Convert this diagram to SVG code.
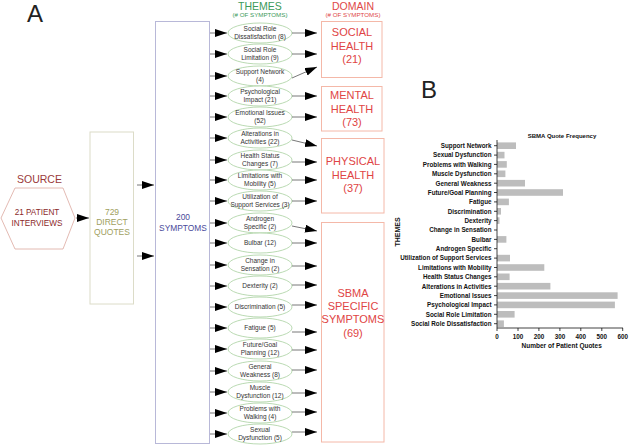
<svg xmlns="http://www.w3.org/2000/svg" width="633" height="445" viewBox="0 0 633 445">
<defs>
<marker id="ah" markerUnits="userSpaceOnUse" markerWidth="13" markerHeight="9" refX="12" refY="4" orient="auto">
<path d="M0,0 L12,4 L0,8 z" fill="#000"/>
</marker>
<style>
text{font-family:"Liberation Sans",Arial,sans-serif}
.big{font-size:24px;fill:#222}
.ln{stroke:#555;stroke-width:0.8;fill:none;marker-end:url(#ah)}
.th ellipse{fill:#fff;stroke:#a8d0a0;stroke-width:0.8}
.th text{font-size:6.5px;fill:#333;text-anchor:middle}
.dom rect{fill:#fff;stroke:#f4b8a8;stroke-width:1}
.dom text{font-size:11px;fill:#e04444;text-anchor:middle}
.cat{font-size:6.3px;font-weight:bold;fill:#111;text-anchor:end}
.tk{font-size:6.3px;font-weight:bold;fill:#111;text-anchor:middle}
.bar{fill:#bdbdbd}
.ax{stroke:#111;stroke-width:0.8;fill:none}
</style>
</defs>
<rect width="633" height="445" fill="#fff"/>
<text class="big" x="27" y="22">A</text>
<text class="big" x="421" y="98">B</text>

<g id="headers">
<text x="260" y="9.5" font-size="10.5" fill="#3c9a5a" text-anchor="middle">THEMES</text>
<text x="260" y="16.5" font-size="6.2" fill="#3c9a5a" text-anchor="middle">(# OF SYMPTOMS)</text>
<text x="353" y="9.5" font-size="10.5" fill="#e04848" text-anchor="middle">DOMAIN</text>
<text x="353" y="16.5" font-size="6.2" fill="#e04848" text-anchor="middle">(# OF SYMPTOMS)</text>
</g>

<g id="source">
<text x="39.5" y="183" font-size="10.5" fill="#9a3a3a" text-anchor="middle">SOURCE</text>
<polygon points="1,218 15,188 63,188 75,218 63,249 15,249" fill="#fff" stroke="#dca8a0" stroke-width="0.8"/>
<text x="37" y="215" font-size="8.2" fill="#8b2a2a" text-anchor="middle">21 PATIENT</text>
<text x="37" y="225.5" font-size="8.2" fill="#8b2a2a" text-anchor="middle">INTERVIEWS</text>
</g>

<g id="quotes">
<rect x="90" y="132" width="43.5" height="172" fill="#fff" stroke="#dcdcc8" stroke-width="1"/>
<text x="112" y="215" font-size="8.5" fill="#a0a060" text-anchor="middle">729</text>
<text x="112" y="225" font-size="8.5" fill="#a0a060" text-anchor="middle">DIRECT</text>
<text x="112" y="235" font-size="8.5" fill="#a0a060" text-anchor="middle">QUOTES</text>
</g>

<g id="symptoms">
<rect x="155.5" y="21.5" width="54" height="422" fill="#fff" stroke="#b8b8d8" stroke-width="1"/>
<text x="183" y="220" font-size="8.4" fill="#4a4a9a" text-anchor="middle">200</text>
<text x="183" y="230.5" font-size="8.4" fill="#4a4a9a" text-anchor="middle">SYMPTOMS</text>
</g>

<g id="themes" class="th">
<g id="t1"><ellipse cx="260" cy="33" rx="32" ry="10"/><text x="260" y="31.3">Social Role</text><text x="260" y="39.3">Dissatisfaction (8)</text></g>
<g id="t2"><ellipse cx="260" cy="54" rx="32" ry="10"/><text x="260" y="52.3">Social Role</text><text x="260" y="60.3">Limitation (9)</text></g>
<g id="t3"><ellipse cx="260" cy="76" rx="32" ry="10"/><text x="260" y="74.3">Support Network</text><text x="260" y="82.3">(4)</text></g>
<g id="t4"><ellipse cx="260" cy="96" rx="32" ry="10"/><text x="260" y="94.3">Psychological</text><text x="260" y="102.3">Impact (21)</text></g>
<g id="t5"><ellipse cx="260" cy="117" rx="32" ry="10"/><text x="260" y="115.3">Emotional Issues</text><text x="260" y="123.3">(52)</text></g>
<g id="t6"><ellipse cx="260" cy="138" rx="32" ry="10"/><text x="260" y="136.3">Alterations in</text><text x="260" y="144.3">Activities (22)</text></g>
<g id="t7"><ellipse cx="260" cy="160" rx="32" ry="10"/><text x="260" y="158.3">Health Status</text><text x="260" y="166.3">Changes (7)</text></g>
<g id="t8"><ellipse cx="260" cy="180" rx="32" ry="10"/><text x="260" y="178.3">Limitations with</text><text x="260" y="186.3">Mobility (5)</text></g>
<g id="t9"><ellipse cx="260" cy="201" rx="32" ry="10"/><text x="260" y="199.3">Utilization of</text><text x="260" y="207.3">Support Services (3)</text></g>
<g id="t10"><ellipse cx="260" cy="223" rx="32" ry="10"/><text x="260" y="221.3">Androgen</text><text x="260" y="229.3">Specific (2)</text></g>
<g id="t11"><ellipse cx="260" cy="243" rx="32" ry="10"/><text x="260" y="245.3">Bulbar (12)</text></g>
<g id="t12"><ellipse cx="260" cy="265" rx="32" ry="10"/><text x="260" y="263.3">Change in</text><text x="260" y="271.3">Sensation (2)</text></g>
<g id="t13"><ellipse cx="260" cy="286" rx="32" ry="10"/><text x="260" y="288.3">Dexterity (2)</text></g>
<g id="t14"><ellipse cx="260" cy="307" rx="32" ry="10"/><text x="260" y="309.3">Discrimination (5)</text></g>
<g id="t15"><ellipse cx="260" cy="328" rx="32" ry="10"/><text x="260" y="330.3">Fatigue (5)</text></g>
<g id="t16"><ellipse cx="260" cy="349" rx="32" ry="10"/><text x="260" y="347.3">Future/Goal</text><text x="260" y="355.3">Planning (12)</text></g>
<g id="t17"><ellipse cx="260" cy="371" rx="32" ry="10"/><text x="260" y="369.3">General</text><text x="260" y="377.3">Weakness (8)</text></g>
<g id="t18"><ellipse cx="260" cy="392" rx="32" ry="10"/><text x="260" y="390.3">Muscle</text><text x="260" y="398.3">Dysfunction (12)</text></g>
<g id="t19"><ellipse cx="260" cy="413" rx="32" ry="10"/><text x="260" y="411.3">Problems with</text><text x="260" y="419.3">Walking (4)</text></g>
<g id="t20"><ellipse cx="260" cy="434" rx="32" ry="10"/><text x="260" y="432.3">Sexual</text><text x="260" y="440.3">Dysfunction (5)</text></g>
</g>

<g id="domains" class="dom">
<g id="d1"><rect x="321.5" y="21.5" width="60.5" height="56"/><text x="352" y="36">SOCIAL</text><text x="352" y="49.5">HEALTH</text><text x="352" y="63">(21)</text></g>
<g id="d2"><rect x="321.5" y="86.5" width="60.5" height="44.5"/><text x="352" y="99">MENTAL</text><text x="352" y="112.5">HEALTH</text><text x="352" y="126">(73)</text></g>
<g id="d3"><rect x="321.5" y="138.5" width="62.5" height="74.5"/><text x="353" y="165">PHYSICAL</text><text x="353" y="178.5">HEALTH</text><text x="353" y="192">(37)</text></g>
<g id="d4"><rect x="321.5" y="222.5" width="62.5" height="219.5"/><text x="353" y="297">SBMA</text><text x="353" y="310">SPECIFIC</text><text x="353" y="323">SYMPTOMS</text><text x="353" y="336.5">(69)</text></g>
</g>

<g id="connectors">
<line class="ln" x1="76" y1="218" x2="89" y2="218"/>
<line class="ln" x1="137" y1="185" x2="154" y2="185"/>
<line class="ln" x1="137" y1="256" x2="154" y2="256"/>
<line class="ln" x1="210" y1="33" x2="227" y2="33"/>
<line class="ln" x1="210" y1="54" x2="227" y2="54"/>
<line class="ln" x1="210" y1="76" x2="227" y2="76"/>
<line class="ln" x1="210" y1="96" x2="227" y2="96"/>
<line class="ln" x1="210" y1="117" x2="227" y2="117"/>
<line class="ln" x1="210" y1="138" x2="227" y2="138"/>
<line class="ln" x1="210" y1="160" x2="227" y2="160"/>
<line class="ln" x1="210" y1="180" x2="227" y2="180"/>
<line class="ln" x1="210" y1="201" x2="227" y2="201"/>
<line class="ln" x1="210" y1="223" x2="227" y2="223"/>
<line class="ln" x1="210" y1="243" x2="227" y2="243"/>
<line class="ln" x1="210" y1="265" x2="227" y2="265"/>
<line class="ln" x1="210" y1="286" x2="227" y2="286"/>
<line class="ln" x1="210" y1="307" x2="227" y2="307"/>
<line class="ln" x1="210" y1="328" x2="227" y2="328"/>
<line class="ln" x1="210" y1="349" x2="227" y2="349"/>
<line class="ln" x1="210" y1="371" x2="227" y2="371"/>
<line class="ln" x1="210" y1="392" x2="227" y2="392"/>
<line class="ln" x1="210" y1="413" x2="227" y2="413"/>
<line class="ln" x1="210" y1="434" x2="227" y2="434"/>
<line class="ln" x1="292" y1="33" x2="317" y2="33"/>
<line class="ln" x1="292" y1="54" x2="317" y2="54"/>
<line class="ln" x1="292" y1="78" x2="317" y2="67"/>
<line class="ln" x1="292" y1="96" x2="317" y2="96"/>
<line class="ln" x1="292" y1="117" x2="317" y2="117"/>
<line class="ln" x1="292" y1="140" x2="317" y2="146"/>
<line class="ln" x1="292" y1="162" x2="317" y2="162"/>
<line class="ln" x1="292" y1="180" x2="317" y2="180"/>
<line class="ln" x1="292" y1="201" x2="317" y2="201"/>
<line class="ln" x1="292" y1="226" x2="317" y2="231"/>
<line class="ln" x1="292" y1="243" x2="317" y2="243"/>
<line class="ln" x1="292" y1="266" x2="317" y2="266"/>
<line class="ln" x1="292" y1="285" x2="317" y2="285"/>
<line class="ln" x1="292" y1="305" x2="317" y2="305"/>
<line class="ln" x1="292" y1="332" x2="317" y2="332"/>
<line class="ln" x1="292" y1="350" x2="317" y2="350"/>
<line class="ln" x1="292" y1="370" x2="317" y2="370"/>
<line class="ln" x1="292" y1="393" x2="317" y2="393"/>
<line class="ln" x1="292" y1="412" x2="317" y2="412"/>
<line class="ln" x1="292" y1="432" x2="317" y2="432"/>
</g>

<g id="chart">
<text x="562" y="138" font-size="6" font-weight="bold" fill="#111" text-anchor="middle">SBMA Quote Frequency</text>
<text transform="translate(400,232) rotate(-90)" font-size="7" font-weight="bold" fill="#111" text-anchor="middle">THEMES</text>
<g id="bars">
<rect class="bar" x="497" y="142.4" width="19" height="6.6"/>
<rect class="bar" x="497" y="151.8" width="7.5" height="6.6"/>
<rect class="bar" x="497" y="161.1" width="9.8" height="6.6"/>
<rect class="bar" x="497" y="170.5" width="8.4" height="6.6"/>
<rect class="bar" x="497" y="179.9" width="28" height="6.6"/>
<rect class="bar" x="497" y="189.2" width="66" height="6.6"/>
<rect class="bar" x="497" y="198.6" width="11.9" height="6.6"/>
<rect class="bar" x="497" y="208" width="4" height="6.6"/>
<rect class="bar" x="497" y="217.3" width="2.5" height="6.6"/>
<rect class="bar" x="497" y="236.1" width="9.4" height="6.6"/>
<rect class="bar" x="497" y="254.8" width="13" height="6.6"/>
<rect class="bar" x="497" y="264.2" width="47.3" height="6.6"/>
<rect class="bar" x="497" y="273.5" width="12.6" height="6.6"/>
<rect class="bar" x="497" y="282.9" width="53.4" height="6.6"/>
<rect class="bar" x="497" y="292.3" width="120.6" height="6.6"/>
<rect class="bar" x="497" y="301.6" width="117.9" height="6.6"/>
<rect class="bar" x="497" y="311" width="17.6" height="6.6"/>
<rect class="bar" x="497" y="320.4" width="6.9" height="6.6"/>
</g>
<g id="catlabels">
<text class="cat" x="491.5" y="148">Support Network</text>
<text class="cat" x="491.5" y="157.4">Sexual Dysfunction</text>
<text class="cat" x="491.5" y="166.7">Problems with Walking</text>
<text class="cat" x="491.5" y="176.1">Muscle Dysfunction</text>
<text class="cat" x="491.5" y="185.5">General Weakness</text>
<text class="cat" x="491.5" y="194.8">Future/Goal Planning</text>
<text class="cat" x="491.5" y="204.2">Fatigue</text>
<text class="cat" x="491.5" y="213.6">Discrimination</text>
<text class="cat" x="491.5" y="222.9">Dexterity</text>
<text class="cat" x="491.5" y="232.3">Change in Sensation</text>
<text class="cat" x="491.5" y="241.7">Bulbar</text>
<text class="cat" x="491.5" y="251">Androgen Specific</text>
<text class="cat" x="491.5" y="260.4">Utilization of Support Services</text>
<text class="cat" x="491.5" y="269.8">Limitations with Mobility</text>
<text class="cat" x="491.5" y="279.1">Health Status Changes</text>
<text class="cat" x="491.5" y="288.5">Alterations in Activities</text>
<text class="cat" x="491.5" y="297.9">Emotional Issues</text>
<text class="cat" x="491.5" y="307.2">Psychological Impact</text>
<text class="cat" x="491.5" y="316.6">Social Role Limitation</text>
<text class="cat" x="491.5" y="326">Social Role Dissatisfaction</text>
</g>
<g id="axes">
<path class="ax" d="M497,140 V328 H623"/>
<path class="ax" d="M494,145.7 h3 M494,155.1 h3 M494,164.4 h3 M494,173.8 h3 M494,183.2 h3 M494,192.5 h3 M494,201.9 h3 M494,211.3 h3 M494,220.6 h3 M494,230 h3 M494,239.4 h3 M494,248.7 h3 M494,258.1 h3 M494,267.5 h3 M494,276.8 h3 M494,286.2 h3 M494,295.6 h3 M494,304.9 h3 M494,314.3 h3 M494,323.7 h3"/>
<path class="ax" d="M497,328 v3 M518,328 v3 M538.9,328 v3 M559.9,328 v3 M580.8,328 v3 M601.8,328 v3 M622.7,328 v3"/>
<text class="tk" x="497" y="338.5">0</text>
<text class="tk" x="518" y="338.5">100</text>
<text class="tk" x="538.9" y="338.5">200</text>
<text class="tk" x="559.9" y="338.5">300</text>
<text class="tk" x="580.8" y="338.5">400</text>
<text class="tk" x="601.8" y="338.5">500</text>
<text class="tk" x="622.7" y="338.5">600</text>
<text x="561.7" y="348" font-size="6.5" font-weight="bold" fill="#111" text-anchor="middle">Number of Patient Quotes</text>
</g>
</g>
</svg>
